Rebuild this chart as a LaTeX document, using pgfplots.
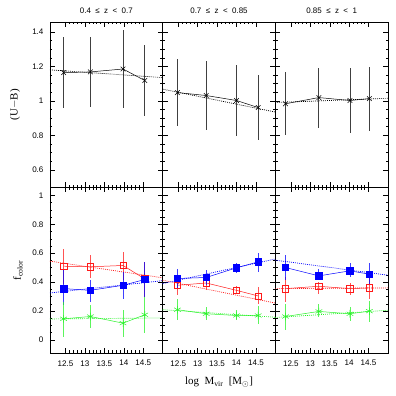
\documentclass[border=0pt]{standalone}
\usepackage{pgfplots}
\pgfplotsset{compat=1.18}
\usepgfplotslibrary{groupplots}
\usetikzlibrary{calc}
\usepackage{fontspec}
\setmainfont{Liberation Serif}
\newfontfamily\hv{Liberation Sans}
\definecolor{cred}{rgb}{1,0.1,0.1}
\definecolor{cblue}{rgb}{0,0,1}
\definecolor{cgreen}{rgb}{0.15,0.95,0.15}
\pgfplotsset{
  erb/.style={error bars/y dir=both, error bars/y explicit, error bars/error mark=none,
    error bars/error bar style={line width=0.8pt, solid, opacity=0.75}},
  fitl/.style={dash pattern=on 0.9pt off 1.1pt, line width=0.7pt},
}
\begin{document}
\begin{tikzpicture}
\begin{groupplot}[
  group style={group size=3 by 2, horizontal sep=0pt, vertical sep=0pt,
    xticklabels at=edge bottom, yticklabels at=edge left, group name=G},
  scale only axis, width=112.7bp, height=165.5bp,
  xmin=12.1, xmax=15,
  xtick={12.5,13,13.5,14,14.5}, minor x tick num=4,
  tick align=inside, major tick length=5bp, minor tick length=2.5bp,
  tick style={line width=0.4pt, black},
  axis line style={line width=0.5pt},
  /pgf/number format/assume math mode=true,
  ticklabel style={font=\hv\fontsize{8.1}{9}\selectfont},
  title style={font=\hv\fontsize{8}{9}\selectfont, at={(0.5,1)}, anchor=south, yshift=0pt, inner sep=2pt},
  ylabel style={font=\fontsize{11}{12}\selectfont},
  xlabel style={font=\fontsize{11}{12}\selectfont},
  xticklabel style={yshift=-4pt},
  yticklabel style={xshift=-3pt},
]
% ---------- top row ----------
\nextgroupplot[ymin=0.497, ymax=1.458, ytick={0.6,0.8,1,1.2,1.4}, minor y tick num=3,
  title={0.4\ \ ≤\ \ z\ \ <\ \ 0.7},
  ylabel={(U$-$B)}, ylabel style={at={(axis description cs:-0.31,0.5)}, anchor=center}]
\addplot[black, line width=0.5pt, mark=x, mark size=3.3bp, erb] coordinates {
 (12.45,1.164) +- (0,0.205)
 (13.14,1.168) +- (0,0.202)
 (13.98,1.185) +- (0,0.226)
 (14.54,1.118) +- (0,0.204)};
\addplot[black, fitl] coordinates {(12.1,1.18) (15,1.135)};

\nextgroupplot[ymin=0.497, ymax=1.458, ytick={0.6,0.8,1,1.2,1.4}, minor y tick num=3,
  title={0.7\ \ ≤\ \ z\ \ <\ \ 0.85}]
\addplot[black, line width=0.5pt, mark=x, mark size=3.3bp, erb] coordinates {
 (12.48,1.048) +- (0,0.193)
 (13.22,1.031) +- (0,0.199)
 (14.00,1.002) +- (0,0.208)
 (14.56,0.961) +- (0,0.190)};
\addplot[black, fitl] coordinates {(12.1,1.068) (15,0.935)};

\nextgroupplot[ymin=0.497, ymax=1.458, ytick={0.6,0.8,1,1.2,1.4}, minor y tick num=3,
  title={0.85\ \ ≤\ \ z\ \ <\ \ 1}]
\addplot[black, line width=0.5pt, mark=x, mark size=3.3bp, erb] coordinates {
 (12.36,0.983) +- (0,0.184)
 (13.22,1.019) +- (0,0.174)
 (14.02,1.002) +- (0,0.187)
 (14.52,1.013) +- (0,0.186)};
\addplot[black, fitl] coordinates {(12.1,0.99) (15,1.015)};

% ---------- bottom row ----------
\nextgroupplot[ymin=-0.09, ymax=1.055, ytick={0,0.2,0.4,0.6,0.8,1}, minor y tick num=3,
  ylabel={f\textsubscript{color}}, ylabel style={at={(axis description cs:-0.285,0.5)}, anchor=center}]
\addplot[cred, line width=0.5pt, mark=square, mark size=3.2bp, erb] coordinates {
 (12.45,0.510) += (0,0.117) -= (0,0.120)
 (13.14,0.506) += (0,0.081) -= (0,0.081)
 (13.98,0.515) += (0,0.095) -= (0,0.097)
 (14.54,0.422) += (0,0.118) -= (0,0.125)};
\addplot[cred, fitl] coordinates {(12.1,0.545) (15,0.43)};
\addplot[cblue, line width=0.5pt, mark=square*, mark size=3.2bp, mark options={fill=cblue}, erb] coordinates {
 (12.45,0.355) += (0,0.128) -= (0,0.116)
 (13.14,0.343) += (0,0.075) -= (0,0.081)
 (13.98,0.378) += (0,0.092) -= (0,0.093)
 (14.54,0.418) += (0,0.122) -= (0,0.121)};
\addplot[cblue, fitl] coordinates {(12.1,0.325) (15,0.41)};
\addplot[cgreen, line width=0.5pt, mark=asterisk, mark size=3.8bp, erb] coordinates {
 (12.45,0.146) += (0,0.116) -= (0,0.123)
 (13.14,0.162) += (0,0.077) -= (0,0.081)
 (13.98,0.116) += (0,0.088) -= (0,0.093)
 (14.54,0.174) += (0,0.123) -= (0,0.128)};
\addplot[cgreen, fitl] coordinates {(12.1,0.145) (15,0.152)};

\nextgroupplot[ymin=-0.09, ymax=1.055, ytick={0,0.2,0.4,0.6,0.8,1}, minor y tick num=3,
  xlabel={log\ \ M\textsubscript{vir}\ \ [M\textsubscript{$\odot$}]},
  xlabel style={at={(axis description cs:0.5,-0.175)}, anchor=center}]
\addplot[cred, line width=0.5pt, mark=square, mark size=3.2bp, erb] coordinates {
 (12.48,0.378) += (0,0.058) -= (0,0.070)
 (13.22,0.394) += (0,0.042) -= (0,0.046)
 (14.00,0.343) += (0,0.028) -= (0,0.023)
 (14.56,0.304) += (0,0.062) -= (0,0.058)};
\addplot[cred, fitl] coordinates {(12.1,0.413) (15,0.255)};
\addplot[cblue, line width=0.5pt, mark=square*, mark size=3.2bp, mark options={fill=cblue}, erb] coordinates {
 (12.48,0.425) += (0,0.069) -= (0,0.070)
 (13.22,0.432) += (0,0.051) -= (0,0.054)
 (14.00,0.499) += (0,0.030) -= (0,0.039)
 (14.56,0.540) += (0,0.060) -= (0,0.070)};
\addplot[cblue, fitl] coordinates {(12.1,0.39) (15,0.56)};
\addplot[cgreen, line width=0.5pt, mark=asterisk, mark size=3.8bp, erb] coordinates {
 (12.48,0.209) += (0,0.077) -= (0,0.070)
 (13.22,0.181) += (0,0.046) -= (0,0.042)
 (14.00,0.169) += (0,0.035) -= (0,0.030)
 (14.56,0.169) += (0,0.063) -= (0,0.058)};
\addplot[cgreen, fitl] coordinates {(12.1,0.209) (15,0.157)};

\nextgroupplot[ymin=-0.09, ymax=1.055, ytick={0,0.2,0.4,0.6,0.8,1}, minor y tick num=3]
\addplot[cred, line width=0.5pt, mark=square, mark size=3.2bp, erb] coordinates {
 (12.36,0.355) += (0,0.081) -= (0,0.093)
 (13.22,0.371) += (0,0.030) -= (0,0.056)
 (14.02,0.355) += (0,0.039) -= (0,0.047)
 (14.52,0.360) += (0,0.076) -= (0,0.075)};
\addplot[cred, fitl] coordinates {(12.1,0.355) (15,0.36)};
\addplot[cblue, line width=0.5pt, mark=square*, mark size=3.2bp, mark options={fill=cblue}, erb] coordinates {
 (12.36,0.501) += (0,0.086) -= (0,0.083)
 (13.22,0.443) += (0,0.050) -= (0,0.030)
 (14.02,0.478) += (0,0.051) -= (0,0.046)
 (14.52,0.455) += (0,0.074) -= (0,0.065)};
\addplot[cblue, fitl] coordinates {(12.1,0.552) (15,0.448)};
\addplot[cgreen, line width=0.5pt, mark=asterisk, mark size=3.8bp, erb] coordinates {
 (12.36,0.162) += (0,0.084) -= (0,0.092)
 (13.22,0.197) += (0,0.049) -= (0,0.040)
 (14.02,0.181) += (0,0.046) -= (0,0.047)
 (14.52,0.199) += (0,0.070) -= (0,0.076)};
\addplot[cgreen, fitl] coordinates {(12.1,0.155) (15,0.205)};
\end{groupplot}
\path ($(G c1r1.north west)+(-50bp,22bp)$) rectangle ($(G c3r2.south east)+(8bp,-43bp)$);
\end{tikzpicture}
\end{document}
